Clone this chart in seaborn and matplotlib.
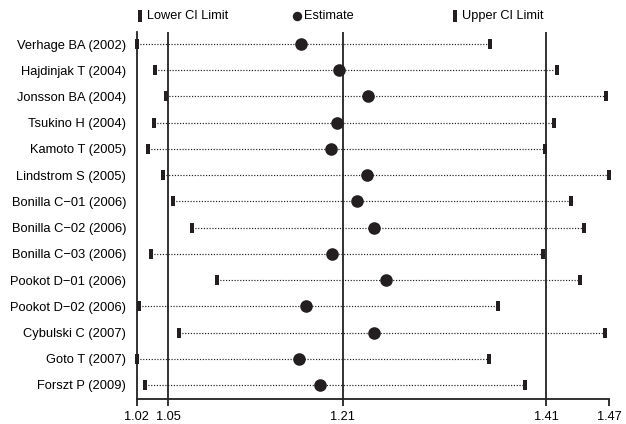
import numpy as np
import pandas as pd
import matplotlib
matplotlib.use("Agg")
import matplotlib.pyplot as plt
import seaborn as sns
from matplotlib.lines import Line2D

studies = ["Verhage BA (2002)", "Hajdinjak T (2004)", "Jonsson BA (2004)", "Tsukino H (2004)",
           "Kamoto T (2005)", "Lindstrom S (2005)", "Bonilla C\u221201 (2006)", "Bonilla C\u221202 (2006)",
           "Bonilla C\u221203 (2006)", "Pookot D\u221201 (2006)", "Pookot D\u221202 (2006)",
           "Cybulski C (2007)", "Goto T (2007)", "Forszt P (2009)"]
lower = [1.020, 1.037, 1.048, 1.036, 1.031, 1.045, 1.055, 1.073, 1.034, 1.096, 1.022, 1.060, 1.020, 1.028]
estimate = [1.176, 1.213, 1.240, 1.211, 1.205, 1.239, 1.230, 1.246, 1.206, 1.257, 1.181, 1.246, 1.175, 1.195]
upper = [1.356, 1.420, 1.467, 1.417, 1.409, 1.470, 1.434, 1.446, 1.407, 1.442, 1.364, 1.466, 1.355, 1.390]
ref_lines = [1.05, 1.216, 1.41]
tick_values = [1.02, 1.05, 1.216, 1.41, 1.47]
tick_labels = ["1.02", "1.05", "1.21", "1.41", "1.47"]

df = pd.DataFrame({"study": studies, "lower": lower, "estimate": estimate, "upper": upper})
df["pos"] = np.arange(len(df))

sns.set_theme(style="white")
plt.rcParams["font.family"] = ["Liberation Sans", "DejaVu Sans"]
dark = "#231f20"

fig = plt.figure(figsize=(6.26, 4.24), dpi=100)
ax = fig.add_axes([136.7 / 626, 25 / 424, (609.3 - 136.7) / 626, (399 - 32) / 424])

ax.hlines(df["pos"], df["lower"], df["upper"], colors=dark, linewidth=0.85,
          linestyles=(0, (1, 1.4)), zorder=1)
for v in ref_lines:
    ax.axvline(v, color="#222222", linewidth=1.3, zorder=0.5)

bar = [(-0.15, -0.5), (0.15, -0.5), (0.15, 0.5), (-0.15, 0.5), (-0.15, -0.5)]
sns.scatterplot(data=df, x="lower", y="pos", marker=bar, s=55, color=dark, linewidth=0,
                ax=ax, zorder=3, clip_on=False)
sns.scatterplot(data=df, x="upper", y="pos", marker=bar, s=55, color=dark, linewidth=0,
                ax=ax, zorder=3, clip_on=False)
sns.scatterplot(data=df, x="estimate", y="pos", marker="o", s=82, color=dark, linewidth=0,
                ax=ax, zorder=4, clip_on=False)

ax.set_xlim(1.02, 1.47)
ax.set_ylim(13 + 14 / 26.2, -12 / 26.2)
ax.set_xticks(tick_values)
ax.set_xticklabels(tick_labels, fontsize=9.2, color="black")
ax.set_yticks(df["pos"])
ax.set_yticklabels(df["study"], fontsize=9.3, color="black")
ax.set_xlabel("")
ax.set_ylabel("")
ax.tick_params(axis="x", length=5, width=1.3, color="#222222", direction="out", pad=3.5, bottom=True)
ax.tick_params(axis="y", length=0, pad=7.5)
for s in ["top", "right"]:
    ax.spines[s].set_visible(False)
for s in ["left", "bottom"]:
    ax.spines[s].set_color("#222222")
    ax.spines[s].set_linewidth(1.3)

# legend row
leg_y = 1 - 15.7 / 424
items = [(140, "bar", "Lower CI Limit"), (297, "dot", "Estimate"), (455, "bar", "Upper CI Limit")]
for xpx, kind, label in items:
    if kind == "bar":
        fig.add_artist(Line2D([xpx / 626], [leg_y], marker=bar, markersize=8, color=dark,
                              markeredgewidth=0, linestyle="none", transform=fig.transFigure))
    else:
        fig.add_artist(Line2D([xpx / 626], [leg_y], marker="o", markersize=6.8, color=dark,
                              markeredgewidth=0, linestyle="none", transform=fig.transFigure))
    fig.text((xpx + 7) / 626, leg_y, label, fontsize=9.2, va="center", ha="left", color="black")

fig.savefig("out.png", dpi=100)
